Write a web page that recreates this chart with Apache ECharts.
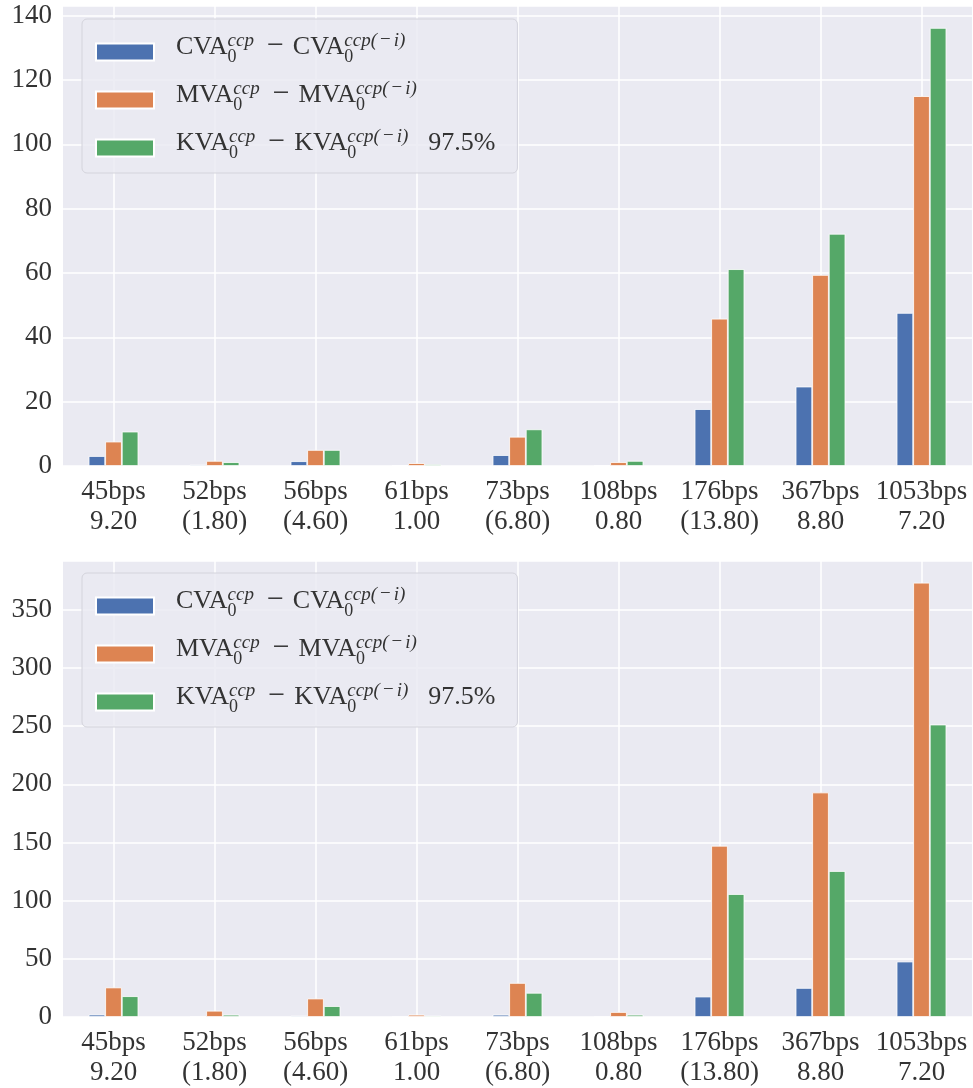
<!DOCTYPE html>
<html>
<head>
<meta charset="utf-8">
<script src="https://cdn.jsdelivr.net/npm/echarts@6/dist/echarts.min.js"></script>
<style>
html,body{margin:0;padding:0;background:#fff;}
#chart{width:973px;height:1088px;}
</style>
</head>
<body>
<div id="chart"></div>
<script>
// ---- data ----
const bpsLabels = ['45bps','52bps','56bps','61bps','73bps','108bps','176bps','367bps','1053bps'];
const subLabels = ['9.20','(1.80)','(4.60)','1.00','(6.80)','0.80','(13.80)','8.80','7.20'];

const cvaTop = [3.1, 0.4, 1.5, 0.1, 3.4, 0.1, 17.7, 24.7, 47.6];
const mvaTop = [7.6, 1.6, 5.0, 0.9, 9.1, 1.2, 45.8, 59.4, 115.0];
const kvaTop = [10.7, 1.2, 5.0, 0.5, 11.4, 1.6, 61.2, 72.2, 136.2];

const cvaBot = [2.1, 0.2, 1.1, 0.1, 2.0, 0.1, 17.6, 25.0, 47.7];
const mvaBot = [25.4, 5.4, 15.9, 2.0, 29.3, 4.3, 147.2, 193.0, 373.3];
const kvaBot = [17.9, 2.0, 9.4, 1.1, 20.8, 2.0, 105.7, 125.5, 251.4];

const seriesNames = ['CVA', 'MVA', 'KVA'];
const colors = ['#4C72B0', '#DD8452', '#55A868'];

// ---- styling ----
const FONT = 'Liberation Serif';
const TXT = '#333333';
const categories = bpsLabels.map((b, i) => b + '\n' + subLabels[i]);

const legendRich = {
  sp:  {fontFamily: FONT, fontSize: 26, lineHeight: 40, width: 17},
  m:   {fontFamily: FONT, fontSize: 26, verticalAlign: 'middle', color: TXT, padding: [0, 0, 10, 0]},
  op:  {fontFamily: FONT, fontSize: 30, verticalAlign: 'middle', color: TXT, padding: [0, 9, 12, 13]},
  pct: {fontFamily: FONT, fontSize: 26, verticalAlign: 'middle', color: TXT, padding: [0, 0, 10, 20]},
  sub: {fontFamily: FONT, fontSize: 18, verticalAlign: 'middle', width: 0, color: TXT, padding: [10, 0, 0, 0]},
  sup: {fontFamily: FONT, fontSize: 19, fontStyle: 'italic', verticalAlign: 'top', color: TXT},
  supm:{fontFamily: FONT, fontSize: 19, verticalAlign: 'top', color: TXT, padding: [0, 3, 0, 3]}
};
function legendText(name) {
  const head = '{sp| }{m|' + name + '}{sub|0}{sup|ccp}{op|\u2212}{m|' + name + '}{sub|0}{sup|ccp(}{supm|\u2212}{sup|i)}';
  return name === 'KVA' ? head + '{pct|97.5%}' : head;
}

function makeLegend(top) {
  return {
    left: 82, top: top, orient: 'vertical', icon: 'rect',
    itemWidth: 58, itemHeight: 17, itemGap: 13,
    padding: [12, 22, 11, 13],
    backgroundColor: 'rgba(234,234,242,0.85)',
    borderColor: '#d4d4dc', borderWidth: 1, borderRadius: 5,
    data: seriesNames,
    formatter: legendText,
    textStyle: {rich: legendRich, fontFamily: FONT, fontSize: 26, color: TXT},
    selectedMode: false
  };
}

function makeX(gridIndex) {
  return {
    type: 'category', gridIndex: gridIndex, data: categories,
    axisLine: {show: false}, axisTick: {show: false},
    axisLabel: {fontFamily: FONT, fontSize: 27, color: TXT, lineHeight: 30, margin: 11, interval: 0},
    splitLine: {show: true, alignWithLabel: true, lineStyle: {color: '#ffffff', width: 1.5}}
  };
}
function makeY(gridIndex, maxVal, interval) {
  return {
    type: 'value', gridIndex: gridIndex, min: 0, max: maxVal, interval: interval,
    axisLine: {show: false}, axisTick: {show: false},
    axisLabel: {
      fontFamily: FONT, fontSize: 27, color: TXT, margin: 11, showMaxLabel: false,
      formatter: v => (Math.abs(v / interval - Math.round(v / interval)) < 1e-6 ? String(Math.round(v)) : '')
    },
    splitLine: {show: true, lineStyle: {color: '#ffffff', width: 1.5}}
  };
}

function makeSeries(name, data, idx, axisIdx) {
  return {
    name: name, type: 'bar', xAxisIndex: axisIdx, yAxisIndex: axisIdx,
    data: data, barWidth: 16.6, barGap: '0%',
    itemStyle: {color: colors[idx], borderColor: '#ffffff', borderWidth: 0.8},
    emphasis: {disabled: true}
  };
}

const topMax = Math.max(...cvaTop, ...mvaTop, ...kvaTop) * 1.05;
const botMax = Math.max(...cvaBot, ...mvaBot, ...kvaBot) * 1.05;

const chart = echarts.init(document.getElementById('chart'), null, {renderer: 'canvas'});
chart.setOption({
  backgroundColor: '#ffffff',
  animation: false,
  color: colors,
  grid: [
    {left: 63, right: 1, top: 6, height: 460, show: true, backgroundColor: '#EAEAF2', borderWidth: 0},
    {left: 63, right: 1, top: 561, height: 459, show: true, backgroundColor: '#EAEAF2', borderWidth: 0}
  ],
  legend: [makeLegend(19), makeLegend(573)],
  xAxis: [makeX(0), makeX(1)],
  yAxis: [makeY(0, topMax, 20), makeY(1, botMax, 50)],
  series: [
    makeSeries('CVA', cvaTop, 0, 0),
    makeSeries('MVA', mvaTop, 1, 0),
    makeSeries('KVA', kvaTop, 2, 0),
    makeSeries('CVA', cvaBot, 0, 1),
    makeSeries('MVA', mvaBot, 1, 1),
    makeSeries('KVA', kvaBot, 2, 1)
  ]
});
</script>
</body>
</html>
